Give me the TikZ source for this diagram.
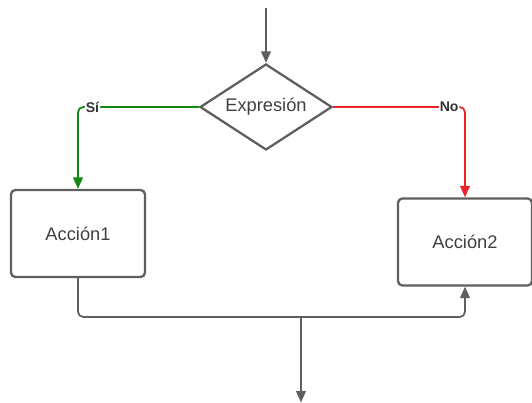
\documentclass[tikz,border=0pt]{standalone}
\usepackage{fontspec}
\setmainfont{Liberation Sans}
\usetikzlibrary{arrows.meta, positioning, shapes.geometric}
\definecolor{fcgray}{HTML}{5F5F5F}
\definecolor{fcgreen}{HTML}{128A12}
\definecolor{fcred}{HTML}{E8262A}

\begin{document}
\begin{tikzpicture}[
  every node/.style={font=\fontsize{10.4}{12}\selectfont, text=black!75},
  action/.style={rectangle, rounded corners=2.5pt, draw=fcgray, line width=1.3pt, fill=white, minimum width=2.68cm, minimum height=1.74cm, align=center},
  decision/.style={diamond, shape aspect=1.5, draw=fcgray, line width=1.3pt, fill=white, inner sep=0pt, minimum width=2.64cm, minimum height=1.72cm},
  flow/.style={-{Triangle[length=6.5pt, width=5.5pt]}, line width=1pt, rounded corners=3pt},
  branch/.style={font=\fontsize{8}{9}\selectfont\bfseries, text=black!80, fill=white, inner sep=0.5pt},
]
\useasboundingbox (0,0) rectangle (10.64,-8.06);

% Nodes
\coordinate (start) at (5.32, -0.16);
\node[decision] (expr) at (5.32, -2.14) {Expresión};
\node[action] (acc1) at (1.56, -4.67) {Acción1};
\node[action] (acc2) at (9.30, -4.84) {Acción2};
\coordinate (join) at (6.02, -6.34);
\coordinate (end) at (6.02, -8.05);

% Connectors
\draw[flow, fcgray] (start) -- (expr.north);
\draw[flow, fcgreen] (expr.west) -| node[branch, pos=0.44] {Sí} (acc1.north);
\draw[flow, fcred] (expr.east) -| node[branch, pos=0.44] {No} (acc2.north);
\draw[flow, fcgray] (acc1.south) |- (join) -| (acc2.south);
\draw[flow, fcgray] (join) -- (end);

\end{tikzpicture}
\end{document}
